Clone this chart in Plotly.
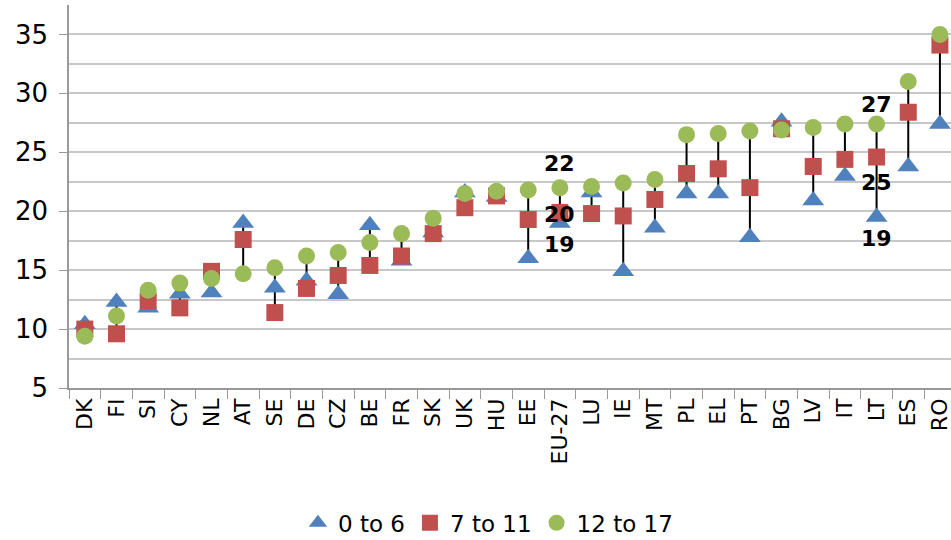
import plotly.graph_objects as go

countries = ["DK", "FI", "SI", "CY", "NL", "AT", "SE", "DE", "CZ", "BE", "FR", "SK", "UK", "HU",
             "EE", "EU-27", "LU", "IE", "MT", "PL", "EL", "PT", "BG", "LV", "IT", "LT", "ES", "RO"]
age_0_6 = [10.4, 12.3, 11.8, 13.0, 13.1, 19.0, 13.5, 14.1, 12.95, 18.8, 15.8, 18.2, 21.6, 21.2,
           16.0, 19.0, 21.6, 14.9, 18.6, 21.5, 21.5, 17.8, 27.6, 20.9, 23.0, 19.5, 23.8, 27.4]
age_7_11 = [10.0, 9.6, 12.4, 11.8, 14.9, 17.6, 11.4, 13.45, 14.55, 15.4, 16.2, 18.1, 20.3, 21.3,
            19.3, 19.9, 19.8, 19.6, 21.0, 23.2, 23.6, 22.0, 27.0, 23.8, 24.4, 24.6, 28.4, 34.1]
age_12_17 = [9.4, 11.1, 13.3, 13.9, 14.3, 14.7, 15.2, 16.2, 16.5, 17.35, 18.1, 19.4, 21.5, 21.7,
             21.8, 22.0, 22.1, 22.4, 22.7, 26.5, 26.6, 26.8, 26.9, 27.1, 27.4, 27.4, 31.0, 35.0]
series_names = ["0 to 6", "7 to 11", "12 to 17"]
labels = [("EU-27", "22", 22.0, 24), ("EU-27", "20", 19.9, -2), ("EU-27", "19", 19.0, -21),
          ("LT", "27", 27.4, 20), ("LT", "25", 24.6, -25), ("LT", "19", 19.5, -21)]

BLUE = "#4F81BD"
RED = "#C0504D"
GREEN = "#9BBB59"
FONT = "DejaVu Sans"

# high-low lines
lx, ly = [], []
for c, a, b, d in zip(countries, age_0_6, age_7_11, age_12_17):
    lx += [c, c, None]
    ly += [min(a, b, d), max(a, b, d), None]

fig = go.Figure()
fig.add_trace(go.Scatter(x=lx, y=ly, mode="lines", line=dict(color="black", width=2),
                         showlegend=False, hoverinfo="skip", cliponaxis=False))
fig.add_trace(go.Scatter(x=countries, y=age_0_6, mode="markers", name=series_names[0],
                         marker=dict(symbol="triangle-up", size=19, color=BLUE), cliponaxis=False))
fig.add_trace(go.Scatter(x=countries, y=age_7_11, mode="markers", name=series_names[1],
                         marker=dict(symbol="square", size=17, color=RED), cliponaxis=False))
fig.add_trace(go.Scatter(x=countries, y=age_12_17, mode="markers", name=series_names[2],
                         marker=dict(symbol="circle", size=17, color=GREEN), cliponaxis=False))

for cx, txt, yv, shift in labels:
    fig.add_annotation(x=cx, y=yv, text=f"<b>{txt}</b>", showarrow=False, yshift=shift,
                       font=dict(family=FONT, size=22, color="black"))

GRID = "#c8c8c8"
fig.update_layout(
    width=951, height=540,
    margin=dict(l=69, r=0, t=5, b=152, autoexpand=False),
    paper_bgcolor="white", plot_bgcolor="white",
    font=dict(family=FONT, color="black"),
    showlegend=True,
    legend=dict(orientation="h", x=0.475, xanchor="center", y=-0.352, yanchor="middle",
                font=dict(family=FONT, size=23), itemsizing="trace"),
    xaxis=dict(range=[-0.5, 27.35], showgrid=False, showline=True, linecolor="#999999",
               linewidth=1.5, ticks="outside", tickson="boundaries", ticklen=9,
               tickcolor="#999999", tickangle=-90, tickfont=dict(family=FONT, size=22),
               automargin=False, fixedrange=True),
    yaxis=dict(range=[5, 37.5], tickvals=[5, 10, 15, 20, 25, 30, 35], showgrid=True,
               gridcolor=GRID, gridwidth=1.5, showline=True, linecolor="#999999",
               linewidth=1.5, ticks="outside", ticklen=8, tickcolor="#999999",
               tickfont=dict(family=FONT, size=26), ticklabelstandoff=6,
               zeroline=False, automargin=False,
               minor=dict(tickvals=[7.5, 12.5, 17.5, 22.5, 27.5, 32.5, 37.5], showgrid=True,
                          gridcolor=GRID, gridwidth=1.5, ticks=""),
               fixedrange=True),
)

fig.write_html("out.html", config={"displayModeBar": False},
               post_script="document.body.style.margin='0px';document.body.style.overflow='hidden';")
